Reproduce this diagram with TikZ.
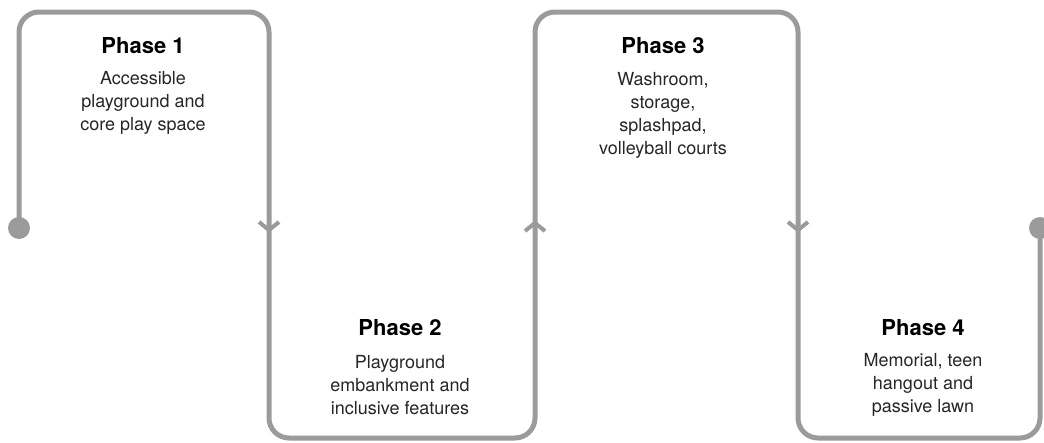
\documentclass[tikz,border=0pt]{standalone}
\usepackage{fontspec}
\setmainfont{TeX Gyre Heros}
\definecolor{linegrey}{HTML}{9B9B9B}
\definecolor{bodytext}{HTML}{262626}
\tikzset{
  flow/.style={draw=linegrey, line width=5pt, rounded corners=20pt},
  chevron/.style={draw=linegrey, line width=4pt},
  enddot/.style={fill=linegrey},
  heading/.style={font=\bfseries\fontsize{22}{26}\selectfont, text=black, inner sep=0pt},
  bodytxt/.style={font=\fontsize{18}{23}\selectfont, text=bodytext, align=center, inner sep=0pt}
}
\begin{document}
\begin{tikzpicture}[x=1pt,y=-1pt]
\useasboundingbox (0,0) rectangle (1044,442);
% path corner coordinates
\coordinate (d1) at (19,228);
\coordinate (c1) at (19,12);
\coordinate (c2) at (269,12);
\coordinate (c3) at (269,438);
\coordinate (c4) at (535,438);
\coordinate (c5) at (535,12);
\coordinate (c6) at (798,12);
\coordinate (c7) at (798,438);
\coordinate (c8) at (1040,438);
\coordinate (d2) at (1040,228);
\draw[flow] (d1) -- (c1) -- (c2) -- (c3) -- (c4) -- (c5) -- (c6) -- (c7) -- (c8) -- (d2);
\fill[enddot] (d1) circle (11pt);
\fill[enddot] (d2) circle (11pt);
% arrow chevrons
\coordinate (a1) at (269,230);
\coordinate (a2) at (535,223);
\coordinate (a3) at (798,230);
\draw[chevron] ([xshift=-10pt,yshift=8pt]a1) -- (a1) -- ([xshift=10pt,yshift=8pt]a1);
\draw[chevron] ([xshift=-10pt,yshift=-8pt]a2) -- (a2) -- ([xshift=10pt,yshift=-8pt]a2);
\draw[chevron] ([xshift=-10pt,yshift=8pt]a3) -- (a3) -- ([xshift=10pt,yshift=8pt]a3);
% texts
\node[heading] (h1) at (143,46) {Phase 1};
\node[bodytxt] (b1) at (143,103) {Accessible\\playground and\\core play space};
\node[heading] (h2) at (400,328) {Phase 2};
\node[bodytxt] (b2) at (400,385) {Playground\\embankment and\\inclusive features};
\node[heading] (h3) at (663,46) {Phase 3};
\node[bodytxt] (b3) at (663,115) {Washroom,\\storage,\\splashpad,\\volleyball courts};
\node[heading] (h4) at (923,328) {Phase 4};
\node[bodytxt] (b4) at (923,385) {Memorial, teen\\hangout and\\passive lawn};
\end{tikzpicture}
\end{document}
